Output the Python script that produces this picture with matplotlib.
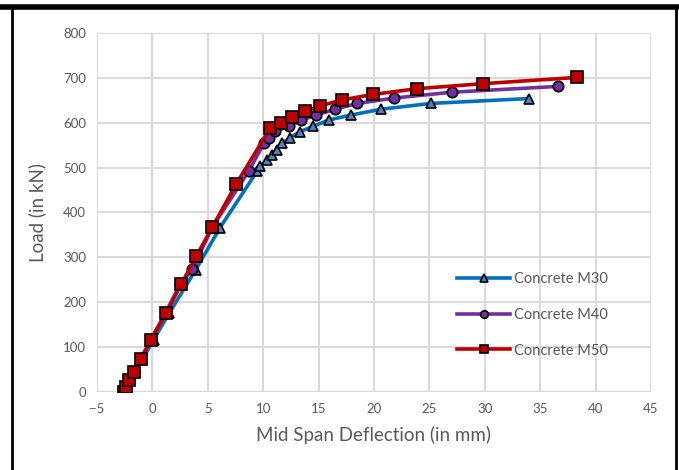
import numpy as np
import matplotlib
matplotlib.use("Agg")
from matplotlib import pyplot as plt
from matplotlib.lines import Line2D

# data (deflection in mm, load in kN)
m30_defl = [-2.5, -2.3, -2.0, -1.6, -0.9, 0.1, 1.5, 3.9, 6.1, 9.45, 9.75, 10.35, 10.8,
            11.25, 11.7, 12.45, 13.3, 14.5, 15.9, 17.9, 20.6, 25.1, 34.0]
m30_load = [0, 12, 27, 45, 73, 116, 175, 272, 366, 492, 503, 517, 528,
            540, 554, 567, 580, 592, 606, 617, 630, 643, 654]

m40_defl = [-2.5, -2.4, -2.1, -1.7, -1.05, -0.15, 1.2, 2.5, 3.6, 5.4, 8.7, 10.05, 10.5,
            11.1, 12.3, 13.45, 14.8, 16.45, 18.5, 21.8, 27.0, 36.6]
m40_load = [0, 12, 27, 45, 73, 116, 177, 240, 273, 367, 492, 554, 567,
            581, 592, 606, 617, 630, 643, 655, 668, 681]

m50_defl = [-2.6, -2.4, -2.1, -1.7, -1.05, -0.15, 1.26, 2.6, 3.97, 5.4, 7.55, 10.65, 11.6,
            12.6, 13.8, 15.1, 17.1, 19.9, 23.9, 29.8, 38.3]
m50_load = [0, 12, 27, 45, 73, 116, 177, 240, 303, 367, 463, 589, 600,
            613, 626, 637, 651, 663, 676, 687, 701]

labels = ["Concrete M30", "Concrete M40", "Concrete M50"]

plt.rcParams['font.family'] = ['Lato', 'DejaVu Sans']
txt = '#595959'

fig = plt.figure(figsize=(6.79, 4.70), dpi=100)
ax = fig.add_axes([97/679, 1 - 392/470, (651 - 97)/679, (392 - 33)/470])

ax.plot(m30_defl, m30_load, color='#0070C0', lw=2.6, marker='^', ms=7.5,
        mfc='#4F81BD', mec='black', mew=1.2, label=labels[0], zorder=3)
ax.plot(m40_defl, m40_load, color='#7030A0', lw=2.6, marker='o', ms=7.5,
        mfc='#7030A0', mec='black', mew=1.2, label=labels[1], zorder=4)
ax.plot(m50_defl, m50_load, color='#C00000', lw=2.6, marker='s', ms=8,
        mfc='#C00000', mec='black', mew=1.2, label=labels[2], zorder=5)

ax.set_xlim(-5, 45)
ax.set_ylim(0, 800)
ax.set_xticks(np.arange(-5, 46, 5))
ax.set_yticks(np.arange(0, 801, 100))
ax.grid(True, color='#D9D9D9', lw=1.4, zorder=0)
ax.axvline(0, color='#BFBFBF', lw=1.6, zorder=1)
ax.axhline(0, color='#BFBFBF', lw=1.6, zorder=1)
for s in ax.spines.values():
    s.set_visible(False)
ax.tick_params(length=0, labelsize=9.5, labelcolor=txt, pad=8)
ax.set_xlabel("Mid Span Deflection (in mm)", fontsize=13.5, color=txt, labelpad=8)
ax.set_ylabel("Load (in kN)", fontsize=13.5, color=txt, labelpad=12)

# legend handles with small markers like the reference
handles = [
    Line2D([], [], color='#0070C0', lw=2.6, marker='^', ms=5.5, mfc='#4F81BD', mec='black', mew=1.2),
    Line2D([], [], color='#7030A0', lw=2.6, marker='o', ms=5.5, mfc='#7030A0', mec='black', mew=1.2),
    Line2D([], [], color='#C00000', lw=2.6, marker='s', ms=5.5, mfc='#C00000', mec='black', mew=1.2),
]
leg = ax.legend(handles, labels, loc='upper left', bbox_to_anchor=(0.64, 0.351),
                frameon=False, fontsize=10.5, handlelength=3.6, labelspacing=1.5,
                handletextpad=0.3, borderaxespad=0)
for t in leg.get_texts():
    t.set_color(txt)

# black frame around the figure
fig.add_artist(Line2D([0, 1], [1 - 7/470, 1 - 7/470], color='black', lw=4, transform=fig.transFigure))
fig.add_artist(Line2D([12/679, 12/679], [0, 1 - 8/470], color='black', lw=2, transform=fig.transFigure))
fig.add_artist(Line2D([676/679, 676/679], [0, 1 - 8/470], color='black', lw=2, transform=fig.transFigure))

fig.savefig("out.png", dpi=100)
